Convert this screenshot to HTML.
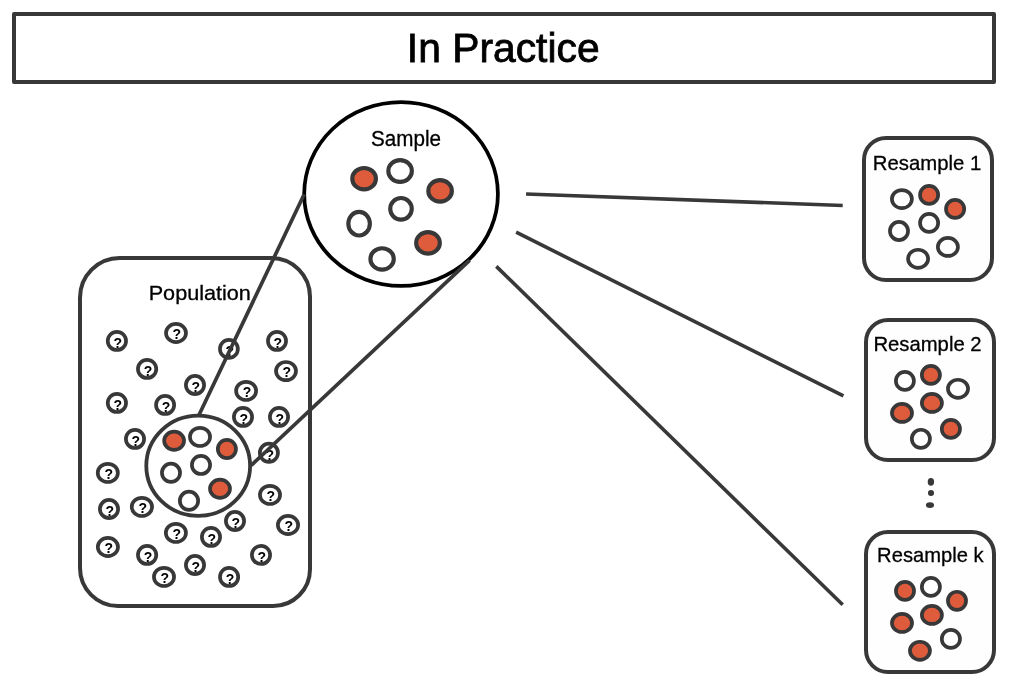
<!DOCTYPE html>
<html><head><meta charset="utf-8"><title>In Practice</title>
<style>
html,body{margin:0;padding:0;background:#fff;}
body{width:1010px;height:686px;overflow:hidden;}
svg{display:block;will-change:transform;}
text{font-family:"Liberation Sans",sans-serif;}
</style></head><body>
<svg width="1010" height="686" viewBox="0 0 1010 686">
<rect width="1010" height="686" fill="#fff"/>
<rect x="14" y="14" width="980" height="68" fill="#fff" stroke="#383838" stroke-width="4" stroke-linejoin="round"/>
<text x="503.2" y="62.3" font-size="41.3" textLength="192.8" lengthAdjust="spacingAndGlyphs" text-anchor="middle" fill="#000" stroke="#000" stroke-width="0.8">In Practice</text>
<path d="M119.7,258 H271.2 A38.8,38.8 0 0 1 310,296.8 V569.2 A36.8,36.8 0 0 1 273.2,606 H118 A38,38 0 0 1 80,568 V297.7 A39.7,39.7 0 0 1 119.7,258 Z" fill="#fff" stroke="#383838" stroke-width="4"/>
<text x="148.7" y="299.7" font-size="20.8" textLength="102.2" lengthAdjust="spacingAndGlyphs" fill="#000" stroke="#000" stroke-width="0.3">Population</text>
<ellipse cx="116.9" cy="340.9" rx="9.15" ry="9.08" fill="#fff" stroke="#383838" stroke-width="3.7"/>
<text x="117.80" y="348" font-size="14" font-weight="bold" text-anchor="middle" fill="#000">?</text>
<ellipse cx="176" cy="333" rx="10.00" ry="9.08" fill="#fff" stroke="#383838" stroke-width="3.7"/>
<text x="176.90" y="339" font-size="14" font-weight="bold" text-anchor="middle" fill="#000">?</text>
<ellipse cx="228.9" cy="348.9" rx="8.95" ry="9.08" fill="#fff" stroke="#383838" stroke-width="3.7"/>
<text x="229.80" y="356" font-size="14" font-weight="bold" text-anchor="middle" fill="#000">?</text>
<ellipse cx="277" cy="340.9" rx="9.05" ry="9.08" fill="#fff" stroke="#383838" stroke-width="3.7"/>
<text x="277.90" y="348" font-size="14" font-weight="bold" text-anchor="middle" fill="#000">?</text>
<ellipse cx="147.1" cy="368.9" rx="9.15" ry="9.08" fill="#fff" stroke="#383838" stroke-width="3.7"/>
<text x="148.00" y="376" font-size="14" font-weight="bold" text-anchor="middle" fill="#000">?</text>
<ellipse cx="286" cy="371.1" rx="10.00" ry="9.08" fill="#fff" stroke="#383838" stroke-width="3.7"/>
<text x="286.90" y="377" font-size="14" font-weight="bold" text-anchor="middle" fill="#000">?</text>
<ellipse cx="195" cy="385" rx="9.10" ry="9.08" fill="#fff" stroke="#383838" stroke-width="3.7"/>
<text x="195.90" y="392" font-size="14" font-weight="bold" text-anchor="middle" fill="#000">?</text>
<ellipse cx="246.1" cy="390.9" rx="10.00" ry="9.08" fill="#fff" stroke="#383838" stroke-width="3.7"/>
<text x="247.00" y="397" font-size="14" font-weight="bold" text-anchor="middle" fill="#000">?</text>
<ellipse cx="116.9" cy="402.9" rx="9.15" ry="9.08" fill="#fff" stroke="#383838" stroke-width="3.7"/>
<text x="117.80" y="410" font-size="14" font-weight="bold" text-anchor="middle" fill="#000">?</text>
<ellipse cx="165.1" cy="404.9" rx="9.05" ry="9.08" fill="#fff" stroke="#383838" stroke-width="3.7"/>
<text x="166.00" y="412" font-size="14" font-weight="bold" text-anchor="middle" fill="#000">?</text>
<ellipse cx="243" cy="416.9" rx="9.10" ry="9.08" fill="#fff" stroke="#383838" stroke-width="3.7"/>
<text x="243.90" y="424" font-size="14" font-weight="bold" text-anchor="middle" fill="#000">?</text>
<ellipse cx="279" cy="416.9" rx="9.10" ry="9.08" fill="#fff" stroke="#383838" stroke-width="3.7"/>
<text x="279.90" y="424" font-size="14" font-weight="bold" text-anchor="middle" fill="#000">?</text>
<ellipse cx="135" cy="438.9" rx="9.10" ry="9.08" fill="#fff" stroke="#383838" stroke-width="3.7"/>
<text x="135.90" y="446" font-size="14" font-weight="bold" text-anchor="middle" fill="#000">?</text>
<ellipse cx="107.8" cy="472.9" rx="10.05" ry="9.08" fill="#fff" stroke="#383838" stroke-width="3.7"/>
<text x="108.70" y="479" font-size="14" font-weight="bold" text-anchor="middle" fill="#000">?</text>
<ellipse cx="268.9" cy="452.8" rx="9.05" ry="9.08" fill="#fff" stroke="#383838" stroke-width="3.7"/>
<text x="269.80" y="460" font-size="14" font-weight="bold" text-anchor="middle" fill="#000">?</text>
<ellipse cx="270" cy="494.9" rx="10.05" ry="9.08" fill="#fff" stroke="#383838" stroke-width="3.7"/>
<text x="270.90" y="501" font-size="14" font-weight="bold" text-anchor="middle" fill="#000">?</text>
<ellipse cx="109" cy="509" rx="9.10" ry="9.08" fill="#fff" stroke="#383838" stroke-width="3.7"/>
<text x="109.90" y="516" font-size="14" font-weight="bold" text-anchor="middle" fill="#000">?</text>
<ellipse cx="141.9" cy="506.9" rx="10.15" ry="9.08" fill="#fff" stroke="#383838" stroke-width="3.7"/>
<text x="142.80" y="513" font-size="14" font-weight="bold" text-anchor="middle" fill="#000">?</text>
<ellipse cx="175.9" cy="532.9" rx="10.05" ry="9.08" fill="#fff" stroke="#383838" stroke-width="3.7"/>
<text x="176.80" y="539" font-size="14" font-weight="bold" text-anchor="middle" fill="#000">?</text>
<ellipse cx="211" cy="536.9" rx="9.10" ry="9.08" fill="#fff" stroke="#383838" stroke-width="3.7"/>
<text x="211.90" y="544" font-size="14" font-weight="bold" text-anchor="middle" fill="#000">?</text>
<ellipse cx="235" cy="521" rx="9.10" ry="9.08" fill="#fff" stroke="#383838" stroke-width="3.7"/>
<text x="235.90" y="528" font-size="14" font-weight="bold" text-anchor="middle" fill="#000">?</text>
<ellipse cx="107.9" cy="547" rx="10.10" ry="9.08" fill="#fff" stroke="#383838" stroke-width="3.7"/>
<text x="108.80" y="553" font-size="14" font-weight="bold" text-anchor="middle" fill="#000">?</text>
<ellipse cx="147.1" cy="554.9" rx="9.15" ry="9.08" fill="#fff" stroke="#383838" stroke-width="3.7"/>
<text x="148.00" y="562" font-size="14" font-weight="bold" text-anchor="middle" fill="#000">?</text>
<ellipse cx="164" cy="576.9" rx="10.05" ry="9.08" fill="#fff" stroke="#383838" stroke-width="3.7"/>
<text x="164.90" y="583" font-size="14" font-weight="bold" text-anchor="middle" fill="#000">?</text>
<ellipse cx="195" cy="565" rx="9.10" ry="9.08" fill="#fff" stroke="#383838" stroke-width="3.7"/>
<text x="195.90" y="572" font-size="14" font-weight="bold" text-anchor="middle" fill="#000">?</text>
<ellipse cx="229.1" cy="576.9" rx="9.10" ry="9.08" fill="#fff" stroke="#383838" stroke-width="3.7"/>
<text x="230.00" y="584" font-size="14" font-weight="bold" text-anchor="middle" fill="#000">?</text>
<ellipse cx="288" cy="525" rx="10.15" ry="9.08" fill="#fff" stroke="#383838" stroke-width="3.7"/>
<text x="288.90" y="531" font-size="14" font-weight="bold" text-anchor="middle" fill="#000">?</text>
<ellipse cx="261" cy="554.9" rx="9.10" ry="9.08" fill="#fff" stroke="#383838" stroke-width="3.7"/>
<text x="261.90" y="562" font-size="14" font-weight="bold" text-anchor="middle" fill="#000">?</text>
<ellipse cx="198.2" cy="465.75" rx="51.9" ry="50.1" fill="#fff" stroke="#383838" stroke-width="3.8"/>
<ellipse cx="174.1" cy="440.7" rx="9.95" ry="9.10" fill="#de5c3c" stroke="#383838" stroke-width="3.7"/>
<ellipse cx="200" cy="436.9" rx="10.05" ry="9.10" fill="#fff" stroke="#383838" stroke-width="3.7"/>
<ellipse cx="226.9" cy="449" rx="9.05" ry="9.10" fill="#de5c3c" stroke="#383838" stroke-width="3.7"/>
<ellipse cx="201" cy="464.9" rx="9.10" ry="9.10" fill="#fff" stroke="#383838" stroke-width="3.7"/>
<ellipse cx="171" cy="472.8" rx="9.05" ry="9.10" fill="#fff" stroke="#383838" stroke-width="3.7"/>
<ellipse cx="220" cy="488.8" rx="10.00" ry="9.10" fill="#de5c3c" stroke="#383838" stroke-width="3.7"/>
<ellipse cx="189" cy="500.8" rx="9.15" ry="9.10" fill="#fff" stroke="#383838" stroke-width="3.7"/>
<ellipse cx="401.05" cy="193.97" rx="96.85" ry="91.9" fill="#fff" stroke="#000" stroke-width="3.75"/>
<line x1="304.2" y1="194.2" x2="198.5" y2="416" stroke="#383838" stroke-width="3.7"/>
<line x1="469.6" y1="260.4" x2="251.2" y2="465.4" stroke="#383838" stroke-width="3.7"/>
<text x="371.0" y="146" font-size="21.4" textLength="70.0" lengthAdjust="spacingAndGlyphs" fill="#000" stroke="#000" stroke-width="0.3">Sample</text>
<ellipse cx="364.1" cy="178.7" rx="11.82" ry="10.73" fill="#de5c3c" stroke="#383838" stroke-width="4.15"/>
<ellipse cx="400.1" cy="171.0" rx="11.77" ry="10.93" fill="#fff" stroke="#383838" stroke-width="4.15"/>
<ellipse cx="440.1" cy="190.9" rx="11.77" ry="10.77" fill="#de5c3c" stroke="#383838" stroke-width="4.15"/>
<ellipse cx="401.0" cy="208.8" rx="10.77" ry="10.77" fill="#fff" stroke="#383838" stroke-width="4.15"/>
<ellipse cx="359.1" cy="223.7" rx="10.77" ry="11.77" fill="#fff" stroke="#383838" stroke-width="4.15"/>
<ellipse cx="428" cy="242.9" rx="11.82" ry="10.77" fill="#de5c3c" stroke="#383838" stroke-width="4.15"/>
<ellipse cx="382.1" cy="258.9" rx="11.68" ry="10.68" fill="#fff" stroke="#383838" stroke-width="4.15"/>
<line x1="526.1" y1="194" x2="842.7" y2="205.5" stroke="#383838" stroke-width="3.6"/>
<line x1="516.1" y1="232.2" x2="843.4" y2="395.9" stroke="#383838" stroke-width="3.6"/>
<line x1="496.3" y1="266.4" x2="842.7" y2="604.8" stroke="#383838" stroke-width="3.6"/>
<rect x="864" y="138" width="128.00" height="142.00" rx="22" ry="22" fill="#fefefe" stroke="#383838" stroke-width="4"/>
<text x="872.8" y="170" font-size="20.8" textLength="108.4" lengthAdjust="spacingAndGlyphs" fill="#000" stroke="#000" stroke-width="0.3">Resample 1</text>
<ellipse cx="901.9" cy="199.1" rx="10.00" ry="9.05" fill="#fff" stroke="#383838" stroke-width="3.7"/>
<ellipse cx="929.1" cy="194.9" rx="9.05" ry="9.05" fill="#de5c3c" stroke="#383838" stroke-width="3.7"/>
<ellipse cx="955.1" cy="208.9" rx="9.10" ry="9.05" fill="#de5c3c" stroke="#383838" stroke-width="3.7"/>
<ellipse cx="929.1" cy="222.9" rx="9.05" ry="9.05" fill="#fff" stroke="#383838" stroke-width="3.7"/>
<ellipse cx="899" cy="231" rx="9.05" ry="9.05" fill="#fff" stroke="#383838" stroke-width="3.7"/>
<ellipse cx="947.9" cy="246.9" rx="10.05" ry="9.05" fill="#fff" stroke="#383838" stroke-width="3.7"/>
<ellipse cx="918.1" cy="258.8" rx="10.05" ry="9.05" fill="#fff" stroke="#383838" stroke-width="3.7"/>
<rect x="866" y="320" width="128.00" height="140.00" rx="22" ry="22" fill="#fefefe" stroke="#383838" stroke-width="4"/>
<text x="873.4" y="351" font-size="20.8" textLength="108.2" lengthAdjust="spacingAndGlyphs" fill="#000" stroke="#000" stroke-width="0.3">Resample 2</text>
<ellipse cx="904.9" cy="380.9" rx="9.00" ry="9.05" fill="#fff" stroke="#383838" stroke-width="3.7"/>
<ellipse cx="930.9" cy="374.9" rx="9.05" ry="9.05" fill="#de5c3c" stroke="#383838" stroke-width="3.7"/>
<ellipse cx="958" cy="388.8" rx="10.05" ry="9.05" fill="#fff" stroke="#383838" stroke-width="3.7"/>
<ellipse cx="931.9" cy="402.9" rx="10.05" ry="9.05" fill="#de5c3c" stroke="#383838" stroke-width="3.7"/>
<ellipse cx="902" cy="412.9" rx="10.05" ry="9.05" fill="#de5c3c" stroke="#383838" stroke-width="3.7"/>
<ellipse cx="950.9" cy="428.9" rx="9.10" ry="9.05" fill="#de5c3c" stroke="#383838" stroke-width="3.7"/>
<ellipse cx="920.9" cy="438.8" rx="9.05" ry="9.05" fill="#fff" stroke="#383838" stroke-width="3.7"/>
<rect x="866" y="532" width="128.00" height="140.00" rx="22" ry="22" fill="#fefefe" stroke="#383838" stroke-width="4"/>
<text x="877.1" y="562" font-size="20.8" textLength="106.5" lengthAdjust="spacingAndGlyphs" fill="#000" stroke="#000" stroke-width="0.3">Resample k</text>
<ellipse cx="905" cy="590.9" rx="9.05" ry="9.05" fill="#de5c3c" stroke="#383838" stroke-width="3.7"/>
<ellipse cx="930.9" cy="586.9" rx="9.05" ry="9.05" fill="#fff" stroke="#383838" stroke-width="3.7"/>
<ellipse cx="957" cy="600.8" rx="9.05" ry="9.05" fill="#de5c3c" stroke="#383838" stroke-width="3.7"/>
<ellipse cx="931.9" cy="614.9" rx="10.05" ry="9.05" fill="#de5c3c" stroke="#383838" stroke-width="3.7"/>
<ellipse cx="902" cy="622.95" rx="10.05" ry="9.05" fill="#de5c3c" stroke="#383838" stroke-width="3.7"/>
<ellipse cx="950.9" cy="638.9" rx="9.10" ry="9.05" fill="#fff" stroke="#383838" stroke-width="3.7"/>
<ellipse cx="919.95" cy="650.8" rx="10.00" ry="9.05" fill="#de5c3c" stroke="#383838" stroke-width="3.7"/>
<ellipse cx="930.9" cy="481.8" rx="3.2" ry="3.9" fill="#383838"/>
<ellipse cx="931" cy="493" rx="3.05" ry="3.05" fill="#383838"/>
<ellipse cx="930" cy="505.1" rx="4.1" ry="2.9" fill="#383838"/>
</svg></body></html>
